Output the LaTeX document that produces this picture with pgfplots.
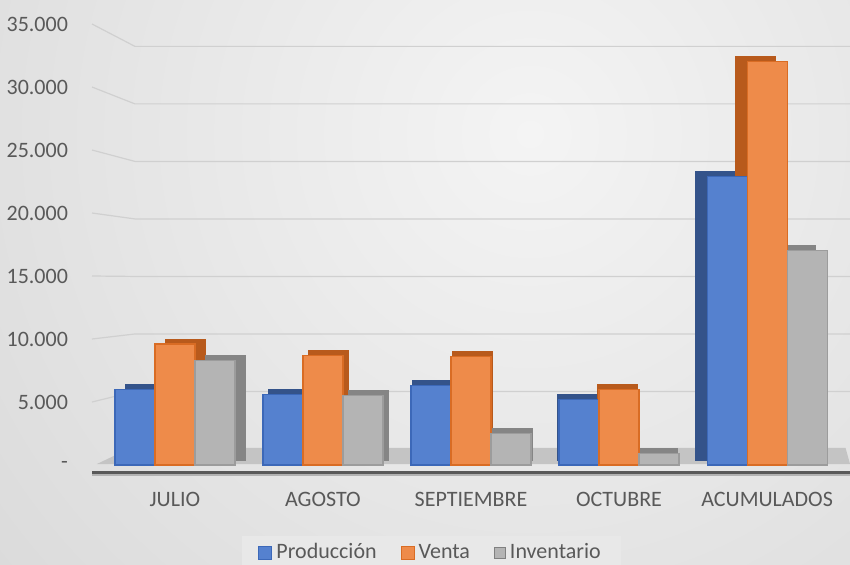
\documentclass[border=0pt]{standalone}
\usepackage{fontspec}
\setmainfont{Carlito}
\usepackage{pgfplots}
\pgfplotsset{compat=1.18}
\usepackage{pgfplotstable}

\definecolor{prodF}{HTML}{5581CF}
\definecolor{prodE}{HTML}{3C68B8}
\definecolor{prodS}{HTML}{34538A}
\definecolor{ventF}{HTML}{EE8B4A}
\definecolor{ventE}{HTML}{D96C24}
\definecolor{ventS}{HTML}{B85A1C}
\definecolor{invF}{HTML}{B4B4B4}
\definecolor{invE}{HTML}{9C9C9C}
\definecolor{invS}{HTML}{858585}
\definecolor{txt}{HTML}{595959}
\definecolor{gridc}{HTML}{D0D0D0}
\definecolor{floorc}{HTML}{C4C4C4}
\definecolor{legbg}{HTML}{E8E8E8}
\definecolor{bgin}{HTML}{F4F4F4}
\definecolor{bgout}{HTML}{C4C4C4}

\pgfplotstableread{
x prod venta inv
0 6000 9600 8300
1 5600 8700 5500
2 6300 8600 2500
3 5200 6000 900
4 22900 32000 17000
}\datatable

% shadow (depth) bars of one series for one category
\newcommand\shadowbar[5]{% #1 column, #2 colour, #3 bar shift, #4 category, #5 xshift
  \addplot[forget plot, fill=#2, draw=#2, bar shift=#3, xshift=#5, yshift=2.5pt,
    restrict x to domain=#4:#4] table[x=x,y=#1]{\datatable};}

\begin{document}
\begin{tikzpicture}[x=1pt,y=1pt]
\begin{scope}
\clip (0,0) rectangle (425,282);
\shade[inner color=bgin, outer color=bgout] (265,215) circle (660);
\end{scope}
\begin{axis}[
  at={(46pt,49.5pt)}, anchor=south west,
  scale only axis, width=379pt, height=220.5pt,
  xmin=-0.56, xmax=4.56, ymin=0, ymax=35000,
  clip=false,
  axis line style={draw=none}, major tick length=0pt,
  scaled y ticks=false,
  ybar, bar width=20pt,
  xtick={0,1,2,3,4},
  xticklabels={JULIO,AGOSTO,SEPTIEMBRE,OCTUBRE,ACUMULADOS},
  ytick={0,5000,10000,15000,20000,25000,30000,35000},
  yticklabels={-,5.000,10.000,15.000,20.000,25.000,30.000,35.000},
  ticklabel style={font=\fontsize{11}{13}\selectfont, text=txt},
  yticklabel style={xshift=-8.5pt},
  xticklabel style={yshift=-10pt},
  legend columns=3,
  legend style={at={(0.448,-0.159)}, anchor=north, draw=none, fill=legbg,
    font=\fontsize{11}{13}\selectfont, text=txt,
    /tikz/every even column/.append style={column sep=10pt},
    inner xsep=8pt, inner ysep=2pt},
]
% back-wall gridlines
\pgfplotsinvokeforeach{5000,10000,15000,20000,25000,30000,35000}{
  \draw[gridc, line width=0.6pt] (axis cs:-0.56,#1)
    -- (axis cs:-0.27,{1270+0.913*#1}) -- (axis cs:4.56,{1270+0.913*#1});
}
% floor
\fill[floorc] (axis cs:-0.527,80) -- (axis cs:-0.30,1350) -- (axis cs:4.53,1350)
   -- (axis cs:4.56,80) -- cycle;
\draw[txt, line width=1.5pt] ([yshift=-3.5pt]rel axis cs:0,0) -- ([yshift=-3.5pt]rel axis cs:1,0);
\draw[gray!60, line width=0.8pt] ([yshift=-5pt]rel axis cs:0,0) -- ([yshift=-5pt]rel axis cs:1,0);

% depth faces
\shadowbar{prod}{prodS}{-20pt}{0}{5pt}
\shadowbar{venta}{ventS}{0pt}{0}{5pt}
\shadowbar{inv}{invS}{20pt}{0}{5pt}
\shadowbar{prod}{prodS}{-20pt}{1}{2.5pt}
\shadowbar{venta}{ventS}{0pt}{1}{2.5pt}
\shadowbar{inv}{invS}{20pt}{1}{2.5pt}
\shadowbar{prod}{prodS}{-20pt}{2}{0.5pt}
\shadowbar{venta}{ventS}{0pt}{2}{0.5pt}
\shadowbar{inv}{invS}{20pt}{2}{0.5pt}
\shadowbar{prod}{prodS}{-20pt}{3}{-1pt}
\shadowbar{venta}{ventS}{0pt}{3}{-1pt}
\shadowbar{inv}{invS}{20pt}{3}{-1pt}
\shadowbar{prod}{prodS}{-20pt}{4}{-6pt}
\shadowbar{venta}{ventS}{0pt}{4}{-6pt}
\shadowbar{inv}{invS}{20pt}{4}{-6pt}

% front faces
\addplot[fill=prodF, draw=prodE, line width=0.6pt, bar shift=-20pt,
  legend image code/.code={\draw[fill=prodF, draw=prodE, line width=0.5pt] (0pt,-3.5pt) rectangle (6.5pt,3pt);}]
  table[x=x,y=prod]{\datatable};
\addlegendentry{Producción}
\addplot[fill=ventF, draw=ventE, line width=0.6pt, bar shift=0pt,
  legend image code/.code={\draw[fill=ventF, draw=ventE, line width=0.5pt] (0pt,-3.5pt) rectangle (6.5pt,3pt);}]
  table[x=x,y=venta]{\datatable};
\addlegendentry{Venta}
\addplot[fill=invF, draw=invE, line width=0.6pt, bar shift=20pt,
  legend image code/.code={\draw[fill=invF, draw=gray, line width=0.5pt] (0.5pt,-3pt) rectangle (6pt,2.5pt);}]
  table[x=x,y=inv]{\datatable};
\addlegendentry{Inventario}
\end{axis}
\pgfresetboundingbox
\path[use as bounding box] (0,0) rectangle (425,282);
\end{tikzpicture}
\end{document}
